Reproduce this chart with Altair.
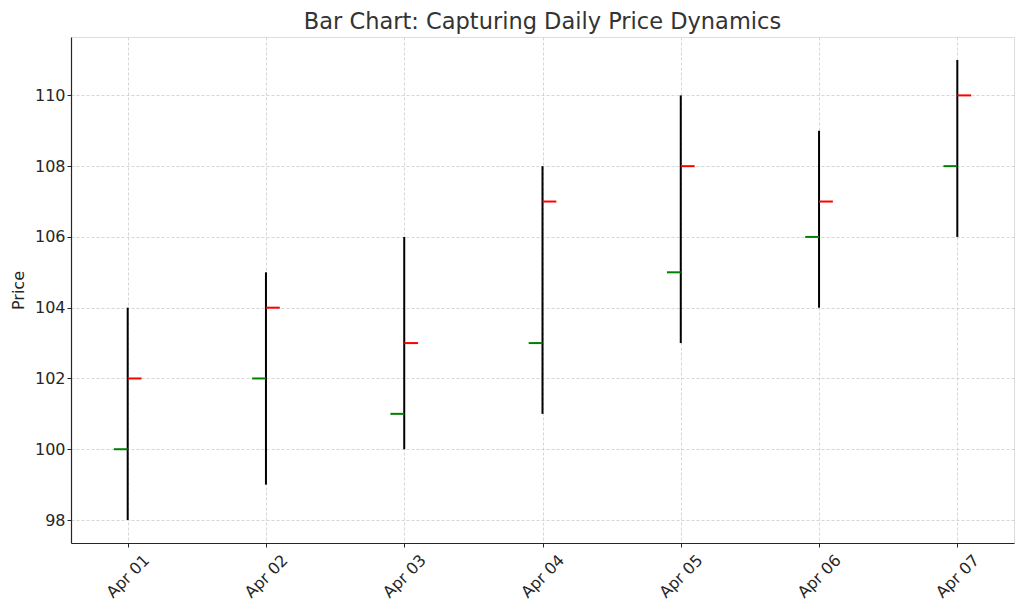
import altair as alt
import pandas as pd

labels = ["Apr 01", "Apr 02", "Apr 03", "Apr 04", "Apr 05", "Apr 06", "Apr 07"]
opens = [100, 102, 101, 103, 105, 106, 108]
highs = [104, 105, 106, 108, 110, 109, 111]
lows = [98, 99, 100, 101, 103, 104, 106]
closes = [102, 104, 103, 107, 108, 107, 110]

df = pd.DataFrame({
    "i": list(range(len(labels))),
    "label": labels,
    "open": opens,
    "high": highs,
    "low": lows,
    "close": closes,
})

label_js = "[" + ",".join(f"'{l}'" for l in labels) + "]"
FONT = "DejaVu Sans"

xscale = alt.Scale(domain=[-0.41, 6.41], nice=False, zero=False)
yscale = alt.Scale(domain=[97.35, 111.65], nice=False, zero=False)

xaxis = alt.Axis(
    values=list(range(len(labels))),
    labelExpr=f"{label_js}[datum.value]",
    labelAngle=-45, labelAlign="center", labelBaseline="middle",
    labelFontSize=16, labelFont=FONT, labelColor="#262626",
    title=None, grid=True, gridColor="#cccccc", gridDash=[3, 2], gridWidth=0.8,
    domainColor="#262626", domainWidth=1.2, tickColor="#262626", tickSize=4,
    labelPadding=29,
)
yaxis = alt.Axis(
    values=[98, 100, 102, 104, 106, 108, 110],
    labelFontSize=16, labelFont=FONT, labelColor="#262626",
    title="Price", titleFontSize=16, titleFont=FONT, titleFontWeight="normal",
    titleColor="#262626", titlePadding=8,
    grid=True, gridColor="#cccccc", gridDash=[3, 2], gridWidth=0.8,
    domainColor="#262626", domainWidth=1.2, tickColor="#262626", tickSize=4,
    labelPadding=2,
)

base = alt.Chart(df)

hl = base.mark_rule(color="black", strokeWidth=2).encode(
    x=alt.X("i:Q", scale=xscale, axis=xaxis),
    y=alt.Y("low:Q", scale=yscale, axis=yaxis),
    y2="high:Q",
)

op = base.transform_calculate(x0="datum.i - 0.1").mark_rule(
    color="green", strokeWidth=2
).encode(
    x=alt.X("x0:Q", scale=xscale),
    x2="i:Q",
    y=alt.Y("open:Q", scale=yscale),
)

cl = base.transform_calculate(x1="datum.i + 0.1").mark_rule(
    color="red", strokeWidth=2
).encode(
    x=alt.X("i:Q", scale=xscale),
    x2="x1:Q",
    y=alt.Y("close:Q", scale=yscale),
)

chart = alt.layer(hl, op, cl).properties(
    width=943,
    height=506,
    title=alt.TitleParams(
        "Bar Chart: Capturing Daily Price Dynamics",
        font=FONT, fontSize=22.5, fontWeight="normal", color="#333333",
        anchor="middle", offset=4,
    ),
    autosize=alt.AutoSizeParams(type="none"),
    padding={"left": 63, "top": 29, "right": 2, "bottom": 60},
).configure_view(stroke=None).configure(background="white")

chart.save("out.html", embed_options={"renderer": "svg", "actions": False})
